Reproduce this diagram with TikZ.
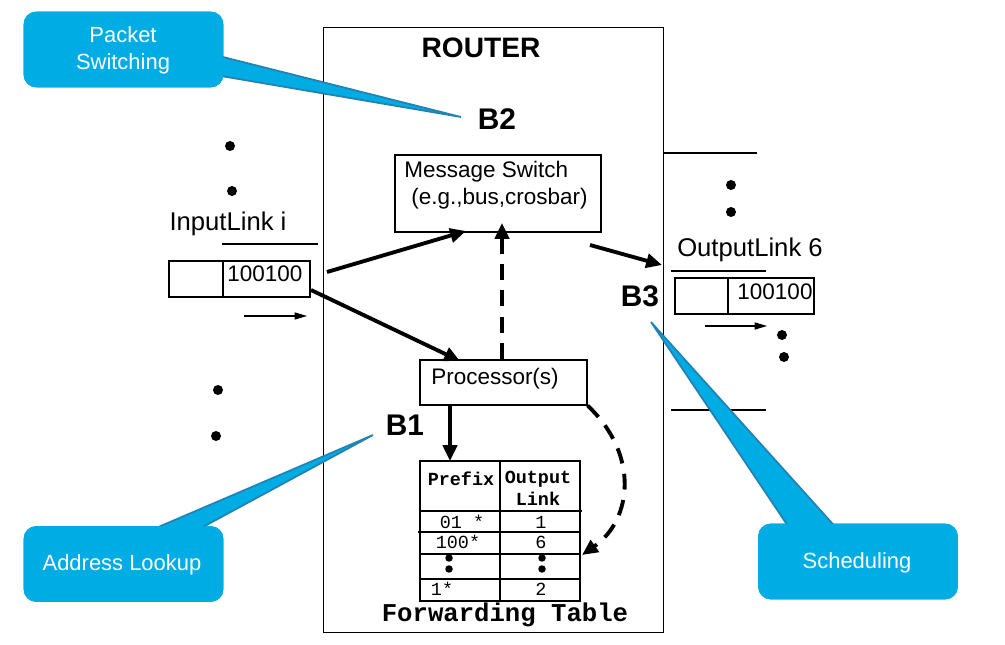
\documentclass[tikz,border=0pt]{standalone}
\usepackage{fontspec}
\setmainfont{Liberation Sans}
\newfontfamily\monofont{Liberation Mono}
\usetikzlibrary{arrows.meta}
\definecolor{calloutfill}{RGB}{0,172,228}
\definecolor{calloutline}{RGB}{35,130,180}

\begin{document}
\begin{tikzpicture}[x=0.02cm, y=-0.02cm,
    box/.style={draw, line width=0.6pt, inner sep=0pt},
    txt/.style={font=\fontsize{12.8}{15}\selectfont, inner sep=0pt},
    big/.style={font=\fontsize{14.6}{17}\selectfont, inner sep=0pt},
    blk/.style={font=\bfseries\fontsize{17}{20}\selectfont, inner sep=0pt},
    tbl/.style={font=\monofont\fontsize{10.5}{12}\selectfont, inner sep=0pt},
    tblb/.style={font=\monofont\bfseries\fontsize{10.5}{12.5}\selectfont, inner sep=0pt, align=center},
    dot/.style={circle, fill, inner sep=0pt, minimum size=0.2cm},
    sdot/.style={circle, fill, inner sep=0pt, minimum size=0.15cm},
    fat/.style={line width=2.2pt, -{Triangle[length=9pt,width=8pt]}},
    fatdash/.style={fat, dash pattern=on 9pt off 6pt},
    thin/.style={line width=0.6pt, -{Triangle[length=7pt,width=4pt]}},
    callout/.style={fill=calloutfill, draw=calloutline, line width=1pt},
    callbox/.style={callout, rounded corners=7pt, minimum width=3.96cm, minimum height=1.48cm},
    calltxt/.style={text=white, font=\fontsize{12.5}{15.3}\selectfont, align=center, inner sep=0pt}]

    \useasboundingbox (0,0) rectangle (1005,645);

    \node[box, minimum width=6.82cm, minimum height=12.12cm] (router) at (493.5,330) {};
    \node[font=\bfseries\fontsize{16}{19}\selectfont, inner sep=0pt] (title) at (481,48) {ROUTER};
    \node[blk] (b2) at (497,119) {B2};
    \node[blk] (b1) at (405,425) {B1};
    \node[blk] (b3) at (640,296) {B3};

    \node[box, minimum width=4.12cm, minimum height=1.54cm] (sw) at (498,193.5) {};
    \node[txt, anchor=west] (swtxt) at (404,172) {Message Switch};
    \node[txt, anchor=west] (swsub) at (411,199) {(e.g.,bus,crosbar)};
    \node[box, minimum width=3.34cm, minimum height=0.9cm] (proc) at (503.5,382.5) {};
    \node[txt] (proctxt) at (495,379) {Processor(s)};

    \draw[line width=0.6pt] (420,461) rectangle (580,601);
    \draw[line width=0.6pt] (500,461) -- (500,601);
    \draw[line width=0.6pt] (420,511) -- (582,511);
    \draw[line width=0.6pt] (418,532) -- (580,532);
    \draw[line width=0.6pt] (420,554) -- (580,554);
    \draw[line width=0.6pt] (420,579) -- (580,579);
    \node[tblb] (hpre) at (461,479) {Prefix};
    \node[tblb] (hout) at (538,488) {Output\\Link};
    \node[tbl] (p1) at (462,522) {01 *};
    \node[tbl] (p2) at (458,542) {100*};
    \node[tbl] (p3) at (442,589) {1*};
    \node[tbl] (o1) at (541,522) {1};
    \node[tbl] (o2) at (541,542) {6};
    \node[tbl] (o3) at (541,589) {2};
    \node[sdot] (td1) at (449,558) {};
    \node[sdot] (td2) at (449,569) {};
    \node[sdot] (td3) at (542,558) {};
    \node[sdot] (td4) at (542,569) {};
    \node[font=\monofont\bfseries\fontsize{14.6}{17}\selectfont, inner sep=0pt] (ftab) at (505,615) {Forwarding Table};
    \coordinate (tabtop) at (450,461);
    \coordinate (tabin) at (582,555);

    \node[dot] (id1) at (230,146) {};
    \node[dot] (id2) at (232,191) {};
    \node[dot] (id3) at (218,390) {};
    \node[dot] (id4) at (216,436) {};
    \node[big] (inlbl) at (228,224) {InputLink i};
    \draw[line width=0.6pt] (222,244) -- (318,244);
    \node[box, minimum width=2.82cm, minimum height=0.72cm] (inbuf) at (239.5,279) {};
    \draw[line width=0.6pt] (223,261) -- (223,297);
    \node[txt] (inbits) at (265,274) {100100};
    \coordinate (inA) at (244,316);
    \coordinate (inB) at (307,316);
    \draw[thin] (inA) -- (inB);

    \draw[line width=0.6pt] (664,153) -- (757,153);
    \node[dot] (od1) at (731,185) {};
    \node[dot] (od2) at (731,212) {};
    \node[big] (outlbl) at (750,250) {OutputLink 6};
    \draw[line width=0.6pt] (671,271) -- (766,271);
    \node[box, minimum width=2.78cm, minimum height=0.72cm] (outbuf) at (744.5,296) {};
    \draw[line width=0.6pt] (728,278) -- (728,314);
    \node[txt] (outbits) at (775,292) {100100};
    \coordinate (outA) at (705,326);
    \coordinate (outB) at (767,326);
    \draw[thin] (outA) -- (outB);
    \node[dot] (od3) at (782,335) {};
    \node[dot] (od4) at (784,357) {};
    \draw[line width=0.6pt] (671,410) -- (766,410);

    \coordinate (in1) at (327,272);
    \coordinate (in2) at (311,290);
    \coordinate (swin) at (466,231);
    \coordinate (procin) at (460,361);
    \coordinate (procup) at (502,359);
    \coordinate (swup) at (502,223);
    \coordinate (swout) at (590,245);
    \coordinate (outend) at (662,265);
    \coordinate (procdn) at (450,405);
    \draw[fat] (in1) -- (swin);
    \draw[fat] (in2) -- (procin);
    \draw[fatdash] (procup) -- (swup);
    \draw[fat] (swout) -- (outend);
    \draw[fat] (procdn) -- (tabtop);
    \draw[fatdash] (proc.south east) .. controls (640,455) and (632,520) .. (tabin);

    \node[callbox] (pkt) at (123.5,49.5) {};
    \coordinate (pktA) at (215,55);
    \coordinate (pktB) at (215,75);
    \coordinate (pktTip) at (461,117);
    \draw[callout] (pktA) -- (pktTip) -- (pktB);
    \fill[calloutfill, rounded corners=7pt] (pkt.south west) rectangle (pkt.north east);
    \node[calltxt] (pkttxt) at (123,50) {Packet\\Switching};

    \node[callbox] (addr) at (123.5,564) {};
    \coordinate (addrA) at (142,534);
    \coordinate (addrB) at (190,534);
    \coordinate (addrTip) at (373,435);
    \draw[callout] (addrA) -- (addrTip) -- (addrB);
    \fill[calloutfill, rounded corners=7pt] (addr.south west) rectangle (addr.north east);
    \node[calltxt] (addrtxt) at (122,565) {Address Lookup};

    \node[callbox] (sched) at (858,561.5) {};
    \coordinate (schedA) at (792,532);
    \coordinate (schedB) at (840,532);
    \coordinate (schedTip) at (651,322);
    \draw[callout] (schedA) -- (schedTip) -- (schedB);
    \fill[calloutfill, rounded corners=7pt] (sched.south west) rectangle (sched.north east);
    \node[calltxt] (schedtxt) at (857,563) {Scheduling};
\end{tikzpicture}
\end{document}
